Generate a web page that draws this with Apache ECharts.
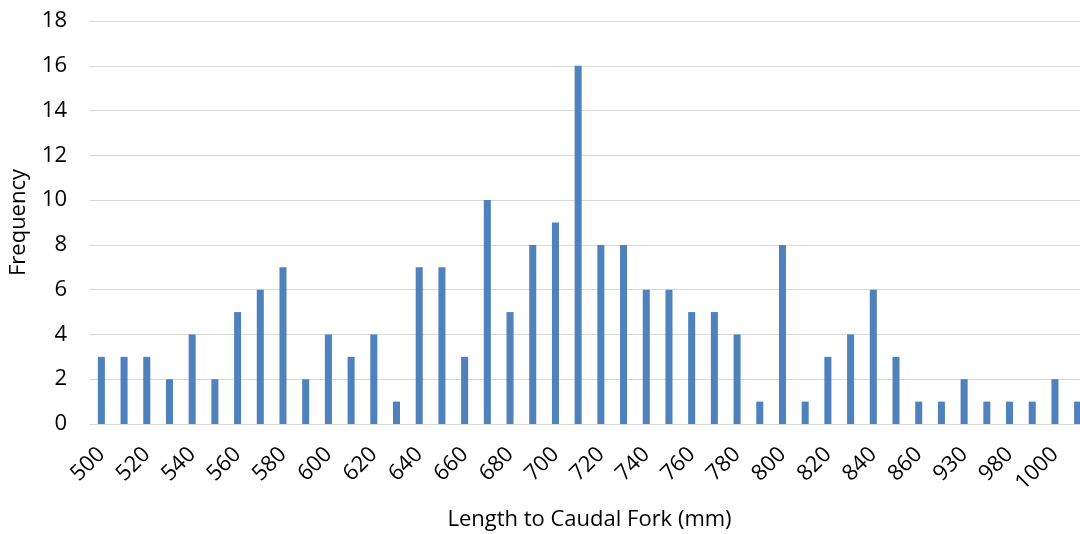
<!DOCTYPE html>
<html>
<head>
<meta charset="utf-8">
<script src="https://cdn.jsdelivr.net/npm/echarts@6/dist/echarts.min.js"></script>
<style>html,body{margin:0;padding:0;background:#fff}#c{width:1080px;height:534px}</style>
</head>
<body>
<div id="c"></div>
<script>
const categories = ['500','510','520','530','540','550','560','570','580','590','600','610','620','630','640','650','660','670','680','690','700','710','720','730','740','750','760','770','780','790','800','810','820','830','840','850','860','880','930','960','980','990','1000','1040'];
const frequency = [3,3,3,2,4,2,5,6,7,2,4,3,4,1,7,7,3,10,5,8,9,16,8,8,6,6,5,5,4,1,8,1,3,4,6,3,1,1,2,1,1,1,2,1];
const yTicks = {min:0, max:18, interval:2};
const xTitle = 'Length to Caudal Fork (mm)';
const yTitle = 'Frequency';

const FONT = '"Open Sans", sans-serif';
const chart = echarts.init(document.getElementById('c'), null, {renderer:'canvas'});
chart.setOption({
  animation:false,
  grid:{left:90, top:21, bottom:110, width:999, outerBoundsMode:'none', containLabel:false},
  xAxis:{
    type:'category', data:categories,
    axisLine:{show:true, lineStyle:{color:'#D9D9D9', width:1}},
    axisTick:{show:false},
    axisLabel:{interval:1, rotate:45, margin:27, color:'#000', fontSize:22, fontFamily:FONT},
    name:xTitle, nameLocation:'middle', nameGap:85,
    nameTextStyle:{color:'#000', fontSize:22, fontFamily:FONT}
  },
  yAxis:{
    type:'value', min:yTicks.min, max:yTicks.max, interval:yTicks.interval,
    axisLine:{show:false}, axisTick:{show:false},
    splitLine:{lineStyle:{color:'#D9D9D9', width:1}},
    axisLabel:{margin:23, color:'#000', fontSize:22, fontFamily:FONT},
    name:yTitle, nameLocation:'middle', nameGap:60,
    nameTextStyle:{color:'#000', fontSize:22, fontFamily:FONT}
  },
  series:[{type:'bar', data:frequency, barWidth:'31%', itemStyle:{color:'#4F81BD'}}]
});
</script>
</body>
</html>
